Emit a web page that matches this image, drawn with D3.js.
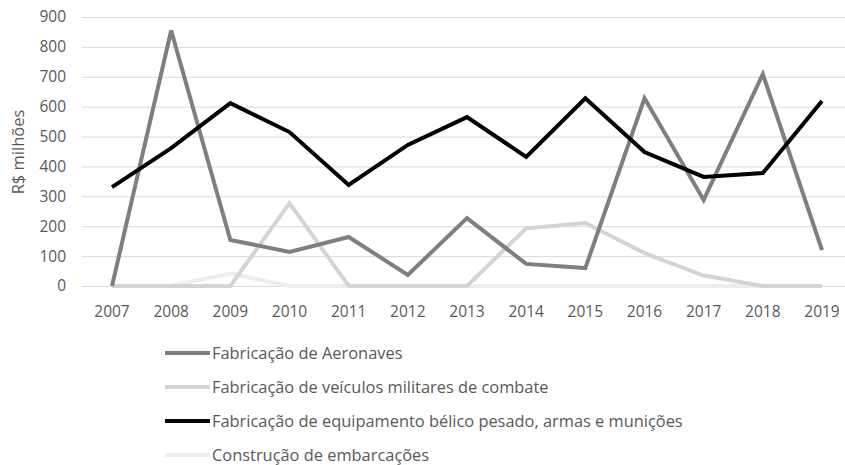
<!DOCTYPE html>
<meta charset="utf-8">
<style>
body { margin: 0; background: #fff; }
text { font-family: "Open Sans", sans-serif; fill: #595959; }
.grid line { stroke: #d9d9d9; stroke-width: 1; }
.series path { fill: none; stroke-width: 4; stroke-linejoin: miter; }
</style>
<body>
<svg width="845" height="465"></svg>
<script src="https://cdn.jsdelivr.net/npm/d3@7"></script>
<script>
// data (R$ milhões)
var years = ["2007","2008","2009","2010","2011","2012","2013","2014","2015","2016","2017","2018","2019"];
var aeronaves   = [0, 855, 154, 114, 164, 37, 227, 74, 60, 628, 288, 709, 120];
var veiculos    = [0, 0, 0, 277, 0, 0, 0, 193, 211, 110, 35, 0, 0];
var belico      = [331, 461, 612, 515, 338, 472, 565, 432, 628, 448, 365, 378, 619];
var embarcacoes = [0, 0, 42, 0, 0, 0, 0, 0, 0, 0, 0, 0, 0];
var yTicks = [0, 100, 200, 300, 400, 500, 600, 700, 800, 900];

var series = [
  {name: "Fabricação de Aeronaves", values: aeronaves, color: "#7f7f7f"},
  {name: "Fabricação de veículos militares de combate", values: veiculos, color: "#d4d4d4"},
  {name: "Fabricação de equipamento bélico pesado, armas e munições", values: belico, color: "#000000"},
  {name: "Construção de embarcações", values: embarcacoes, color: "#ededed"}
];
// draw order: lightest first, black on top
var drawOrder = [3, 1, 0, 2];

var svg = d3.select("svg");

var x = d3.scalePoint().domain(years).range([112, 822]);
var y = d3.scaleLinear().domain([0, 900]).range([286, 17]);

// gridlines
svg.append("g").attr("class", "grid")
  .selectAll("line")
  .data(yTicks)
  .enter().append("line")
    .attr("x1", 82).attr("x2", 845)
    .attr("y1", function(d) { return y(d) + 0.5; })
    .attr("y2", function(d) { return y(d) + 0.5; });

// y axis labels
svg.append("g")
  .selectAll("text")
  .data(yTicks)
  .enter().append("text")
    .attr("x", 66)
    .attr("y", function(d) { return y(d); })
    .attr("dy", "0.35em")
    .attr("text-anchor", "end")
    .style("font-size", "15.5px")
    .text(function(d) { return d; });

// x axis labels
svg.append("g")
  .selectAll("text")
  .data(years)
  .enter().append("text")
    .attr("x", function(d) { return x(d); })
    .attr("y", 317)
    .attr("text-anchor", "middle")
    .style("font-size", "15.5px")
    .text(function(d) { return d; });

// y axis title
svg.append("text")
  .attr("transform", "translate(24,152) rotate(-90)")
  .attr("text-anchor", "middle")
  .style("font-size", "16.5px")
  .text("R$ milhões");

var line = d3.line()
  .x(function(d, i) { return x(years[i]); })
  .y(function(d) { return y(d); });

svg.append("g").attr("class", "series")
  .selectAll("path")
  .data(drawOrder.map(function(i) { return series[i]; }))
  .enter().append("path")
    .attr("stroke", function(d) { return d.color; })
    .attr("d", function(d) { return line(d.values); });

// legend
var legend = svg.append("g")
  .selectAll("g")
  .data(series)
  .enter().append("g")
    .attr("transform", function(d, i) { return "translate(0," + (353 + i * 34) + ")"; });

legend.append("line")
  .attr("x1", 165).attr("x2", 210)
  .attr("stroke", function(d) { return d.color; })
  .attr("stroke-width", 4);

legend.append("text")
  .attr("x", 212)
  .attr("dy", "0.35em")
  .style("font-size", "16.4px")
  .text(function(d) { return d.name; });
</script>
